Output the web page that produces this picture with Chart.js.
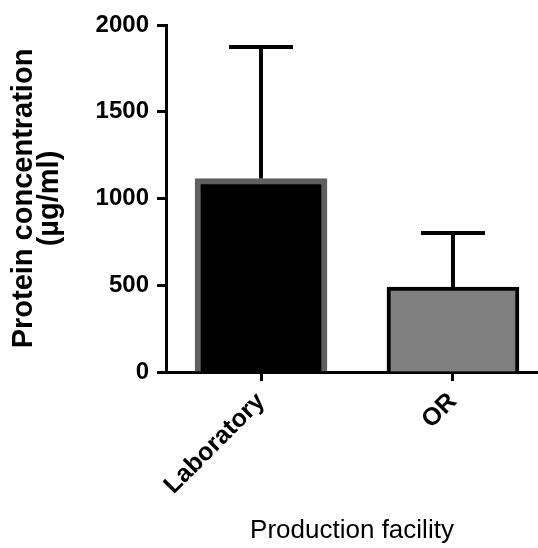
<!DOCTYPE html>
<html>
<head>
<meta charset="utf-8">
<script src="https://cdn.jsdelivr.net/npm/chart.js@4.4.0/dist/chart.umd.min.js"></script>
<style>
  html, body { margin: 0; padding: 0; background: #fff; overflow: hidden; }
  canvas { display: block; }
</style>
</head>
<body>
<canvas id="proteinChart" width="538" height="548"></canvas>
<script>
// values
const facilities = ["Laboratory", "OR"];
const meanConc = [1115, 490];
const sdConc = [758, 311];
const yTicks = [0, 500, 1000, 1500, 2000];

const FONT = "'Liberation Sans', Arial, Helvetica, sans-serif";

// draw the upper SD whiskers through the chart scales
const errorBars = {
  id: "errorBars",
  afterDatasetsDraw(chart) {
    const ctx = chart.ctx;
    const xs = chart.scales.x;
    const ys = chart.scales.y;
    ctx.save();
    ctx.strokeStyle = "#000";
    ctx.lineWidth = 4;
    ctx.lineCap = "butt";
    meanConc.forEach((m, i) => {
      const x = xs.getPixelForValue(i);
      const yTop = ys.getPixelForValue(m + sdConc[i]);
      const yBar = ys.getPixelForValue(m);
      ctx.beginPath();
      ctx.moveTo(x, yBar);
      ctx.lineTo(x, yTop);
      ctx.moveTo(x - 32, yTop);
      ctx.lineTo(x + 32, yTop);
      ctx.stroke();
    });
    ctx.restore();
  }
};

const ctx = document.getElementById("proteinChart");
new Chart(ctx, {
  type: "bar",
  data: {
    datasets: [{
      data: meanConc.map((v, i) => ({x: i, y: v})),
      backgroundColor: ["#000000", "#808080"],
      borderColor: ["#5f5f5f", "#000000"],
      borderWidth: [6, 4],
      borderSkipped: "bottom",
      barThickness: 132
    }]
  },
  options: {
    responsive: false,
    animation: false,
    devicePixelRatio: 1,
    layout: { padding: { top: 25, right: 0, bottom: 0, left: 0 } },
    plugins: {
      legend: { display: false },
      tooltip: { enabled: false }
    },
    scales: {
      x: {
        type: "linear",
        offset: false,
        min: -0.495,
        max: 1.443,
        afterBuildTicks: (scale) => { scale.ticks = facilities.map((_, i) => ({value: i})); },
        afterFit: (scale) => { scale.height = 176; },
        grid: { offset: false, drawOnChartArea: false, tickLength: 9, tickWidth: 3, tickColor: "#000" },
        border: { color: "#000", width: 3 },
        ticks: {
          autoSkip: false,
          minRotation: 45,
          maxRotation: 45,
          padding: 6,
          color: "#000",
          font: { family: FONT, size: 25, weight: "bold" },
          callback: (v) => facilities[v]
        },
        title: {
          display: true,
          text: "Production facility",
          color: "#000",
          font: { family: FONT, size: 26, weight: "normal", lineHeight: 1.2 },
          padding: { top: 0, bottom: 2 }
        }
      },
      y: {
        min: 0,
        max: 2000,
        afterBuildTicks: (scale) => { scale.ticks = yTicks.map(v => ({value: v})); },
        afterFit: (scale) => { scale.width = 166; },
        grid: { drawOnChartArea: false, tickLength: 9, tickWidth: 3, tickColor: "#000" },
        border: { color: "#000", width: 3 },
        ticks: {
          padding: 8,
          color: "#000",
          font: { family: FONT, size: 24, weight: "bold" },
          callback: (v) => String(v)
        },
        title: {
          display: true,
          text: ["Protein concentration", "(\u00b5g/ml)"],
          color: "#000",
          font: { family: FONT, size: 29, weight: "bold", lineHeight: 0.9 },
          padding: { top: 11, bottom: 0 }
        }
      }
    }
  },
  plugins: [errorBars]
});
</script>
</body>
</html>
